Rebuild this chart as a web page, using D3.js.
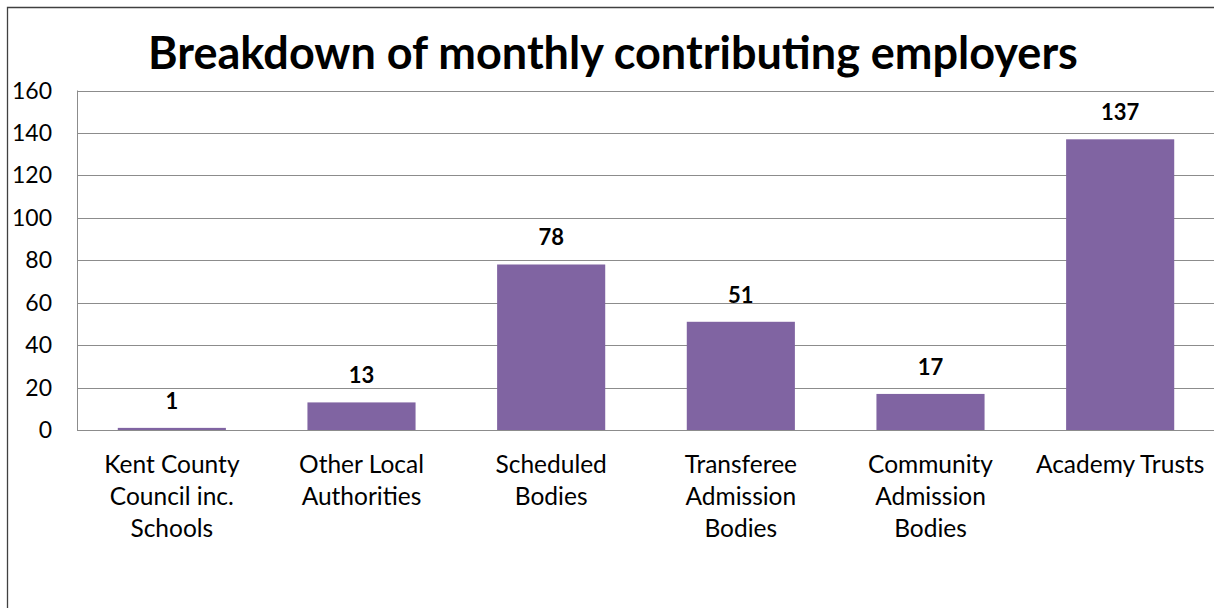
<!DOCTYPE html>
<html lang="en">
<head>
<meta charset="UTF-8">
<title>Breakdown of monthly contributing employers</title>
<script src="https://cdn.jsdelivr.net/npm/d3@7/dist/d3.min.js"></script>
<style>
body { margin: 0; background: #fff; overflow: hidden; }
svg { display: block; }
text { font-family: Lato, 'Open Sans', sans-serif; fill: #000; }
</style>
</head>
<body>
<script>
// chart values
const categories = [
  ["Kent County", "Council inc.", "Schools"],
  ["Other Local", "Authorities"],
  ["Scheduled", "Bodies"],
  ["Transferee", "Admission", "Bodies"],
  ["Community", "Admission", "Bodies"],
  ["Academy Trusts"]
];
const values = [1, 13, 78, 51, 17, 137];
const yTicks = [0, 20, 40, 60, 80, 100, 120, 140, 160];
const title = "Breakdown of monthly contributing employers";

const width = 1214, height = 608;
const margin = {left: 77, right: -1, top: 90.5, bottom: 178};

const svg = d3.select("body").append("svg")
  .attr("width", width)
  .attr("height", height);

// outer chart border: only the left and top sides fall inside the picture
svg.append("path")
  .attr("d", `M7.5,${height}V7.5H${width}`)
  .attr("fill", "none")
  .attr("stroke", "#404040")
  .attr("stroke-width", 1.3);

const x = d3.scaleBand()
  .domain(d3.range(categories.length))
  .range([margin.left, width - margin.right])
  .paddingInner(0.43)
  .paddingOuter(0.215);

const y = d3.scaleLinear()
  .domain([0, 160])
  .range([height - margin.bottom, margin.top]);

// gridlines
svg.append("g")
  .selectAll("line")
  .data(yTicks.slice(1))
  .join("line")
    .attr("x1", margin.left).attr("x2", width)
    .attr("y1", d => Math.round(y(d)) + 0.5)
    .attr("y2", d => Math.round(y(d)) + 0.5)
    .attr("stroke", "#8c8c8c")
    .attr("stroke-width", 1);

// plot area left edge
svg.append("line")
  .attr("x1", margin.left + 0.5).attr("x2", margin.left + 0.5)
  .attr("y1", y(160)).attr("y2", y(0))
  .attr("stroke", "#8c8c8c");

// bars
svg.append("g")
  .selectAll("rect")
  .data(values)
  .join("rect")
    .attr("x", (d, i) => x(i))
    .attr("width", x.bandwidth())
    .attr("y", d => y(d))
    .attr("height", d => y(0) - y(d))
    .attr("fill", "#8064a2");

// x axis baseline
svg.append("line")
  .attr("x1", margin.left).attr("x2", width)
  .attr("y1", Math.round(y(0)) + 0.5).attr("y2", Math.round(y(0)) + 0.5)
  .attr("stroke", "#8c8c8c");

// y tick labels
svg.append("g")
  .selectAll("text")
  .data(yTicks)
  .join("text")
    .attr("x", 52)
    .attr("y", d => y(d))
    .attr("dy", "0.35em")
    .attr("text-anchor", "end")
    .style("font-size", "23px")
    .text(d => d);

// data labels
svg.append("g")
  .selectAll("text")
  .data(values)
  .join("text")
    .attr("x", (d, i) => x(i) + x.bandwidth() / 2)
    .attr("y", d => y(d) - 19)
    .attr("text-anchor", "middle")
    .style("font-size", "22px")
    .style("font-weight", "bold")
    .text(d => d);

// category labels
const cat = svg.append("g")
  .selectAll("text")
  .data(categories)
  .join("text")
    .attr("text-anchor", "middle")
    .style("font-size", "24.5px");
cat.selectAll("tspan")
  .data((d, i) => d.map(line => ({line, i})))
  .join("tspan")
    .attr("x", d => x(d.i) + x.bandwidth() / 2)
    .attr("y", (d, j) => 473 + j * 32)
    .text(d => d.line);

// title
svg.append("text")
  .attr("x", 613)
  .attr("y", 69)
  .attr("text-anchor", "middle")
  .style("font-size", "45px")
  .style("font-weight", "bold")
  .text(title);
</script>
</body>
</html>
